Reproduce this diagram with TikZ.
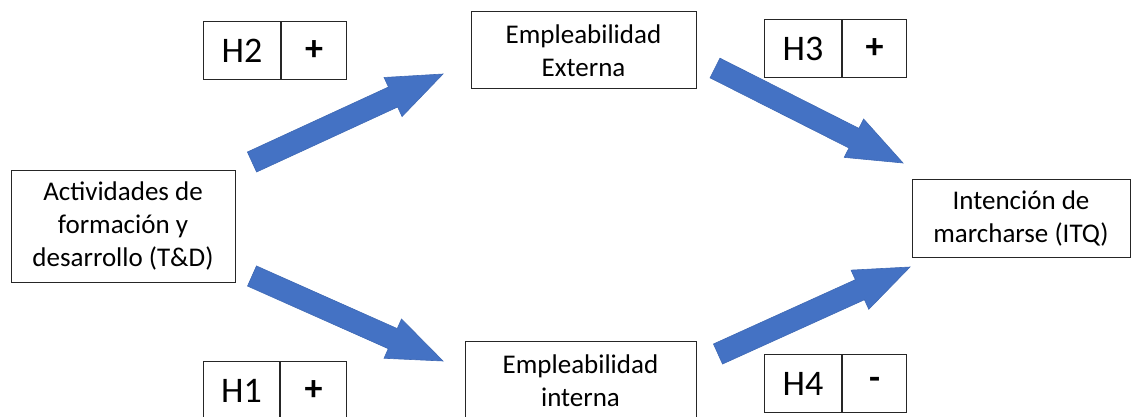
\documentclass[tikz,border=0pt]{standalone}
\usepackage{fontspec}
\setmainfont{Carlito}
\usetikzlibrary{calc}
\definecolor{arrowblue}{HTML}{4472C4}
\tikzset{
  box/.style={draw=black!85, line width=1pt, align=center, inner sep=0pt,
    font=\fontsize{27}{33}\selectfont},
  hyp/.style={draw=black!85, line width=1pt, inner sep=0pt, anchor=north west,
    font=\fontsize{36}{40}\selectfont, minimum height=58pt},
  blockarrow/.style={fill=arrowblue, draw=arrowblue!92!black, line width=0.6pt, line join=miter},
}
\newcommand\bigarrow[3]{%
  \coordinate (#3h) at ($(#2)!55pt!(#1)$);
  \path[blockarrow] ($(#1)!11pt!90:(#2)$) -- ($(#3h)!11pt!90:(#2)$) -- ($(#3h)!21.5pt!90:(#2)$)
    -- (#2) -- ($(#3h)!21.5pt!-90:(#2)$) -- ($(#3h)!11pt!-90:(#2)$) -- ($(#1)!11pt!-90:(#2)$) -- cycle;
}
\begin{document}
\begin{tikzpicture}[x=1pt,y=1pt]
\useasboundingbox (0,0) rectangle (1131,-417);
\clip (0,0) rectangle (1131,-417);
% main boxes
\node[box, minimum width=224pt, minimum height=112pt] (td) at (123,-226) {Actividades de\\formación y\\desarrollo (T\&D)};
\node[box, minimum width=225pt, minimum height=77pt] (ext) at (583.5,-50.5) {Empleabilidad\\Externa};
\node[box, minimum width=218pt, minimum height=78pt] (itq) at (1021,-218) {Intención de\\marcharse (ITQ)};
\node[box, minimum width=231pt, minimum height=79pt] (int) at (580.5,-380.5) {Empleabilidad\\interna};
% hypothesis boxes
\node[hyp, minimum width=77pt] (h2l) at (203,-21) {H2};
\node[hyp, minimum width=65pt] (h2s) at (h2l.north east) {\textbf{+}};
\node[hyp, minimum width=77pt] (h3l) at (764,-19) {H3};
\node[hyp, minimum width=64pt] (h3s) at (h3l.north east) {\textbf{+}};
\node[hyp, minimum width=76pt] (h1l) at (203,-361) {H1};
\node[hyp, minimum width=66pt] (h1s) at (h1l.north east) {\textbf{+}};
\node[hyp, minimum width=77pt] (h4l) at (764,-354) {H4};
\node[hyp, minimum width=64pt] (h4s) at (h4l.north east) {\textbf{-}};
% arrows
\coordinate (a1s) at (252,-162); \coordinate (a1e) at (443,-74);
\coordinate (a2s) at (715,-68);  \coordinate (a2e) at (903,-163);
\coordinate (a3s) at (252,-276); \coordinate (a3e) at (443,-361);
\coordinate (a4s) at (718,-354); \coordinate (a4e) at (910,-267);
\bigarrow{a1s}{a1e}{a1}
\bigarrow{a2s}{a2e}{a2}
\bigarrow{a3s}{a3e}{a3}
\bigarrow{a4s}{a4e}{a4}
\end{tikzpicture}
\end{document}
